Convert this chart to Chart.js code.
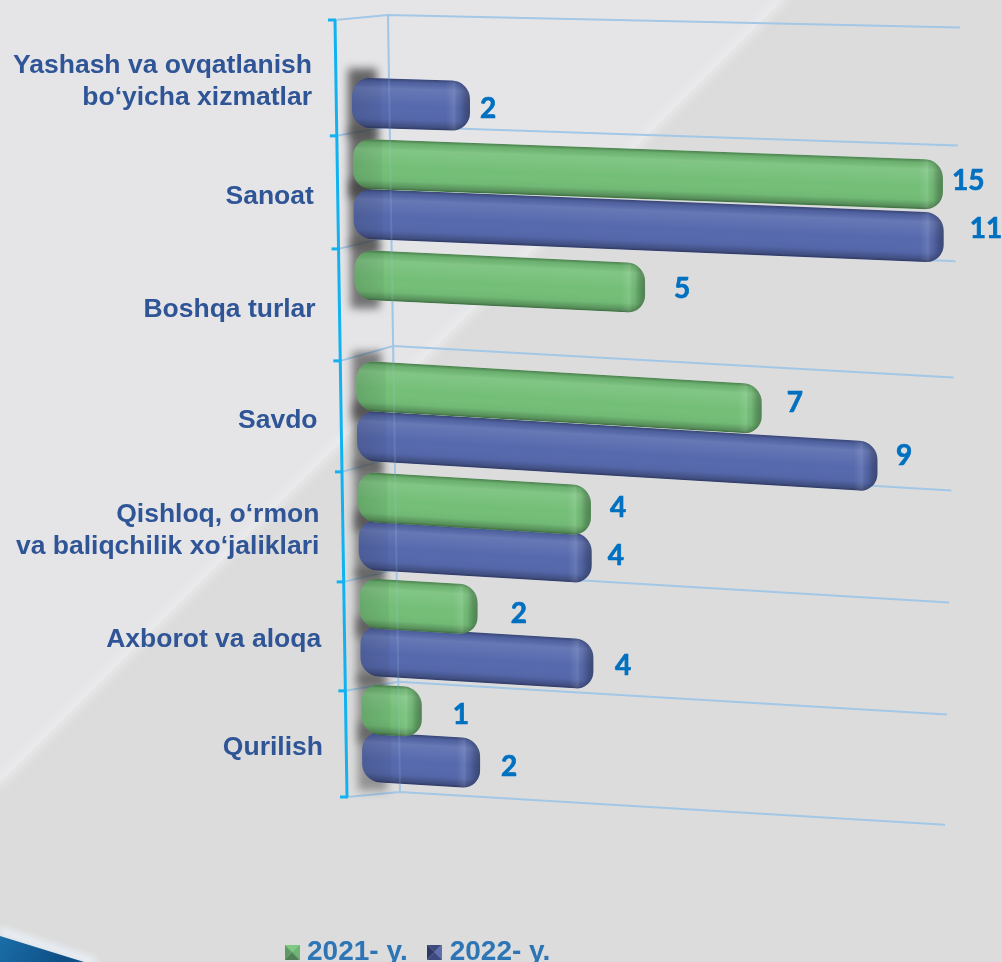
<!DOCTYPE html>
<html><head><meta charset="utf-8">
<style>html,body{margin:0;padding:0;background:#dcdcdc;overflow:hidden}#w{width:1002px;height:962px}</style>
<script src="https://cdn.jsdelivr.net/npm/chart.js@4"></script>
</head><body><div id="w"><canvas id="c" width="1002" height="962"></canvas></div>
<script>
const categories = [
  ["Yashash va ovqatlanish", "bo‘yicha xizmatlar"],
  "Sanoat", "Boshqa turlar", "Savdo",
  ["Qishloq, o‘rmon", "va baliqchilik xo‘jaliklari"],
  "Axborot va aloqa", "Qurilish"
];
const values2021 = [null, 15, 5, 7, 4, 2, 1];
const values2022 = [2, 11, null, 9, 4, 4, 2];
const seriesNames = ["2021- y.", "2022- y."];

// Layout tweaks, separate from the data
const tickShiftY = [6.5, 10, 12, 12.5, 11.5, 9.5, 6.5];
const valueNudge = [
  [[0,0],[9,-4],[29,1],[25,-6],[19,-3],[33,4],[31,3]],
  [[10,3],[26,-9],[0,0],[18.5,-11],[16,-2],[21.6,2],[21,3]]
];
const slope = y => 0.02 + 0.0001 * Math.min(y, 400);
const shiftX = y => (y - 100) * 0.0152;
const shiftY = y => y < 500 ? 2 : 2 - (y - 500) * 0.045;

function marker(c1, c2, c3, c4) {
  const m = document.createElement('canvas'); m.width = 15; m.height = 15;
  const g = m.getContext('2d');
  const tri = (c, a, b) => { g.fillStyle = c; g.beginPath(); g.moveTo(7.5,7.5); g.lineTo(a[0],a[1]); g.lineTo(b[0],b[1]); g.fill(); };
  tri(c1,[0,0],[15,0]); tri(c2,[15,0],[15,15]); tri(c3,[15,15],[0,15]); tri(c4,[0,15],[0,0]);
  return m;
}
const markers = [marker('#7ccb80','#6fb573','#4e7f55','#5d9a63'), marker('#3c4a80','#5d6fb0','#3c4a80','#2c3866')];

const scene = {
  id: 'scene',
  beforeDraw(chart) {
    const { ctx, width: W, height: H } = chart;
    ctx.save();
    ctx.fillStyle = '#dcdcdc'; ctx.fillRect(0, 0, W, H);
    ctx.fillStyle = '#e5e5e8';
    ctx.beginPath(); ctx.moveTo(0,0); ctx.lineTo(782,0); ctx.lineTo(0,782); ctx.fill();
    ctx.filter = 'blur(5px)';
    ctx.strokeStyle = 'rgba(240,240,242,0.8)'; ctx.lineWidth = 7;
    ctx.beginPath(); ctx.moveTo(786,-4); ctx.lineTo(-4,786); ctx.stroke();
    // swoosh bottom-left
    ctx.filter = 'blur(3px)';
    ctx.strokeStyle = 'rgba(232,240,246,0.9)'; ctx.lineWidth = 9;
    ctx.beginPath(); ctx.moveTo(0,931); ctx.lineTo(95,962); ctx.stroke();
    ctx.filter = 'none';
    const sw = ctx.createLinearGradient(0,935,60,962);
    sw.addColorStop(0,'#1b6ea8'); sw.addColorStop(1,'#0d4f86');
    ctx.fillStyle = sw;
    ctx.beginPath(); ctx.moveTo(0,936); ctx.lineTo(84,962); ctx.lineTo(0,962); ctx.fill();
    ctx.restore();
    // drift the category labels with the perspective of the axis
    const ys = chart.scales.y;
    ys.getLabelItems().forEach((it, i) => {
      const yc = ys.getPixelForTick(i);
      it.options.translation = [312 + (yc - 75) * 0.0165, yc + tickShiftY[i]];
    });
  },
  afterLayout(chart) {
    const l = chart.legend;
    l.left = 265; l.right = 720;
    const h = l.bottom - l.top;
    l.top = 912; l.bottom = 912 + h;
  },
  beforeDatasetsDraw(chart) {
    const { ctx, chartArea: a } = chart;
    const ys = chart.scales.y, n = categories.length;
    const step = (ys.bottom - ys.top) / n;
    ctx.save();
    // wall + floor lines
    ctx.strokeStyle = '#a3c7e6'; ctx.lineWidth = 2;
    const wall = [], front = [];
    for (let i = 0; i <= n; i++) {
      const y = ys.top + i * step + 8 * Math.pow(Math.sin(Math.PI * i / n), 0.6);
      const fx = 335 + (y - 20) * 12 / 777;
      const bx = 388 + (y - 20) * 12 / 777;
      const lift = 5 + 10 * Math.sin(Math.PI * (y - 20) / 777);
      const by = y - lift;
      const rx = 960 - (y - 20) * 15 / 777;
      const ry = by + slope(y) * (rx - bx);
      front.push([fx, y]); wall.push([bx, by]);
      ctx.beginPath(); ctx.moveTo(fx, y); ctx.lineTo(bx, by); ctx.lineTo(rx, ry); ctx.stroke();
    }
    ctx.beginPath(); ctx.moveTo(wall[0][0], wall[0][1]); ctx.lineTo(wall[n][0], wall[n][1]); ctx.stroke();
    // dark side shadow behind bars
    ctx.filter = 'blur(4px)';
    chart.data.datasets.forEach((d, di) => {
      chart.getDatasetMeta(di).data.forEach((el, i) => {
        if (d.data[i] == null) return;
        const yy = el.y, h = el.height, dx = shiftX(yy), dy = shiftY(yy);
        ctx.fillStyle = `rgba(60,60,60,${0.8 - 0.35 * yy / 800})`;
        ctx.fillRect(a.left - 4 + dx, yy - h / 2 + dy - 9, 29, h + 18);
      });
    });
    ctx.filter = 'none';
    // bright axis
    ctx.strokeStyle = '#12b2f0'; ctx.lineWidth = 3;
    ctx.beginPath(); ctx.moveTo(front[0][0], front[0][1]); ctx.lineTo(front[n][0], front[n][1]); ctx.stroke();
    front.forEach(p => { ctx.beginPath(); ctx.moveTo(p[0] - 7, p[1]); ctx.lineTo(p[0] + 1, p[1]); ctx.stroke(); });
    ctx.restore();
  },
  beforeDatasetDraw(chart, args) {
    const { ctx, chartArea: a } = chart;
    const data = chart.data.datasets[args.index].data;
    args.meta.data.forEach((el, i) => {
      if (data[i] == null) return;
      const sx = el.x, sb = el.base;
      el.x = Math.min(sx, a.right); el.base = a.left;
      const s = slope(el.y), dx = shiftX(el.y), dy = shiftY(el.y);
      ctx.save();
      ctx.transform(1, s, 0, 1, dx, dy - s * a.left);
      el.draw(ctx);
      const L = el.base, R = el.x, T = el.y - el.height / 2, B = el.y + el.height / 2;
      ctx.beginPath(); ctx.roundRect(L, T, R - L, B - T, 18); ctx.clip();
      let g = ctx.createLinearGradient(0, T, 0, B);
      g.addColorStop(0, 'rgba(0,0,0,0.34)');
      g.addColorStop(0.07, 'rgba(0,0,0,0.08)');
      g.addColorStop(0.2, 'rgba(255,255,255,0.10)');
      g.addColorStop(0.55, 'rgba(255,255,255,0)');
      g.addColorStop(0.82, 'rgba(0,0,0,0.03)');
      g.addColorStop(0.95, 'rgba(0,0,0,0.25)');
      g.addColorStop(1, 'rgba(0,0,0,0.45)');
      ctx.fillStyle = g; ctx.fillRect(L, T, R - L, B - T);
      g = ctx.createLinearGradient(R - 24, 0, R, 0);
      g.addColorStop(0, 'rgba(255,255,255,0)');
      g.addColorStop(0.35, 'rgba(255,255,255,0.10)');
      g.addColorStop(0.55, 'rgba(0,0,0,0.04)');
      g.addColorStop(0.8, 'rgba(0,0,0,0.24)');
      g.addColorStop(1, 'rgba(0,0,0,0.32)');
      ctx.fillStyle = g; ctx.fillRect(R - 24, T, 24, B - T);
      g = ctx.createLinearGradient(L, 0, L + 30, 0);
      g.addColorStop(0, 'rgba(0,0,0,0.12)');
      g.addColorStop(0.95, 'rgba(0,0,0,0.05)');
      g.addColorStop(1, 'rgba(0,0,0,0)');
      ctx.fillStyle = g; ctx.fillRect(L, T, 30, B - T);
      ctx.restore();
      el.x = sx; el.base = sb;
    });
    return false;
  },
  afterDatasetsDraw(chart) {
    const { ctx, chartArea: a } = chart;
    ctx.save();
    // wall line faintly visible through the translucent bars
    ctx.strokeStyle = 'rgba(163,199,230,0.18)'; ctx.lineWidth = 2;
    ctx.beginPath(); ctx.moveTo(388, a.top - 5); ctx.lineTo(400, a.bottom - 7); ctx.stroke();
    ctx.font = 'bold 28px Lato, sans-serif';
    ctx.fillStyle = '#0070c0'; ctx.strokeStyle = '#0070c0'; ctx.lineWidth = 0.7;
    ctx.textAlign = 'left'; ctx.textBaseline = 'middle';
    chart.data.datasets.forEach((d, di) => {
      chart.getDatasetMeta(di).data.forEach((el, i) => {
        if (d.data[i] == null) return;
        const endX = Math.min(el.x, a.right);
        const s = slope(el.y);
        const x = endX + shiftX(el.y) + valueNudge[di][i][0];
        const y = el.y + shiftY(el.y) + s * (endX - a.left) + valueNudge[di][i][1];
        ctx.fillText(String(d.data[i]), x, y);
        ctx.strokeText(String(d.data[i]), x, y);
      });
    });
    ctx.restore();
  }
};

new Chart(document.getElementById('c'), {
  type: 'bar',
  plugins: [scene],
  data: {
    labels: categories,
    datasets: [
      { label: seriesNames[0], data: values2021, backgroundColor: '#74bf78', borderRadius: 18, borderSkipped: false, inflateAmount: 0, categoryPercentage: 0.9, barPercentage: 1 },
      { label: seriesNames[1], data: values2022, backgroundColor: '#5669ad', borderRadius: 18, borderSkipped: false, inflateAmount: 0, categoryPercentage: 0.9, barPercentage: 1 }
    ]
  },
  options: {
    indexAxis: 'y',
    responsive: false,
    animation: false,
    devicePixelRatio: 1,
    layout: { padding: { top: 20, right: 60, left: 0, bottom: 101 } },
    scales: {
      x: { display: false, min: -0.052, max: 10.21 },
      y: {
        grid: { display: false }, border: { display: false },
        afterFit(s) { s.width = 352; },
        ticks: { autoSkip: false, color: '#2f5597', font: { family: '"Liberation Sans", Arial, sans-serif', size: 26.5, weight: 'bold' }, padding: 0 }
      }
    },
    plugins: {
      tooltip: { enabled: false },
      legend: {
        position: 'bottom', align: 'start',
        labels: {
          usePointStyle: true, pointStyleWidth: 2, padding: 26, color: '#2e75b6',
          font: { family: '"Liberation Sans", Arial, sans-serif', size: 28, weight: 'bold' },
          generateLabels(chart) {
            return Chart.defaults.plugins.legend.labels.generateLabels(chart).map((it, i) => { it.pointStyle = markers[i]; return it; });
          }
        }
      }
    }
  }
});
</script></body></html>
